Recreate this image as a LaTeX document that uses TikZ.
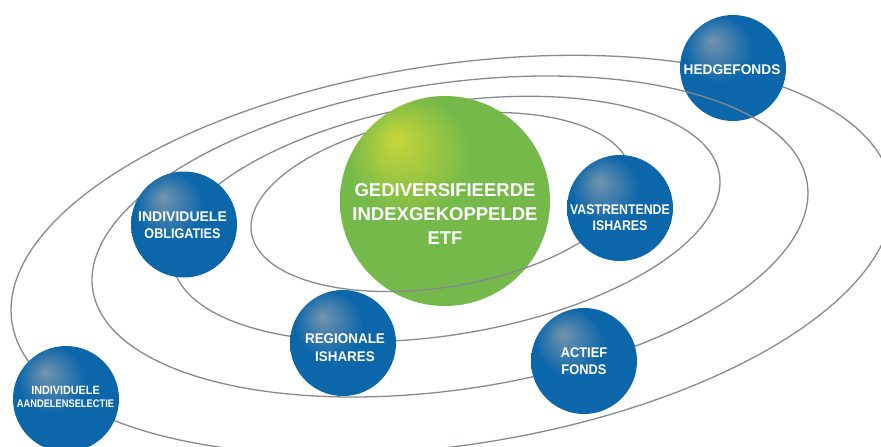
\documentclass[tikz,border=0pt]{standalone}
\usepackage{fontspec}
\usepackage{graphicx}
\newfontfamily\labfont{Liberation Sans}
\definecolor{orbitgray}{HTML}{858A91}
\pgfdeclareradialshading{bluesph}{\pgfpoint{-10bp}{13bp}}{rgb(0bp)=(0.45,0.58,0.68); rgb(16bp)=(0.043,0.4,0.667); rgb(50bp)=(0.043,0.4,0.667)}
\pgfdeclareradialshading{greensph}{\pgfpoint{-12bp}{15bp}}{rgb(0bp)=(0.78,0.84,0.22); rgb(15bp)=(0.455,0.725,0.29); rgb(50bp)=(0.455,0.725,0.29)}
\tikzset{
  orbit/.style={draw=orbitgray, line width=1.3pt},
  planet/.style={circle, inner sep=0pt, minimum size=106pt, shading=bluesph},
  sun/.style={circle, inner sep=0pt, minimum size=210pt, shading=greensph},
  lbl/.style={text=white, align=center, inner sep=0pt, font=\labfont\bfseries\fontsize{14}{17.5}\selectfont},
  biglbl/.style={lbl, font=\labfont\bfseries\fontsize{18.5}{24}\selectfont},
}
\newcommand\orbitplot[6]{plot[domain=#6, samples=181] ({#1+#2*cos(\x)},{#3+#4*cos(\x)+#5*sin(\x)})}
\begin{document}
\begin{tikzpicture}[x=1pt,y=-1pt]
\useasboundingbox (0,0) rectangle (881,447);
\clip (0,0) rectangle (881,447);
% orbits
\draw[orbit] \orbitplot{441}{190}{202}{-25}{86}{0:360} -- cycle;
\draw[orbit] \orbitplot{446}{274}{219}{-37}{117}{0:360} -- cycle;
\draw[orbit] \orbitplot{450}{358}{236.5}{-43.5}{154.5}{0:360} -- cycle;
\draw[orbit] \orbitplot{452}{441}{255}{-55}{192}{0:360} -- cycle;
% bodies
\node[sun] (etf) at (445,201) {};
\node[planet] (hedge) at (733,68) {};
\node[planet] (vast) at (620,208) {};
\node[planet] (oblig) at (184,224.5) {};
\node[planet] (regio) at (343,343) {};
\node[planet] (actief) at (584,361) {};
\node[planet] (aandel) at (66,399) {};
% orbit parts in front
\begin{scope}
  \clip (etf.center) circle (105pt);
  \draw[orbit] \orbitplot{441}{190}{202}{-25}{86}{0:180};
\end{scope}
\begin{scope}
  \clip (hedge.center) circle (53pt);
  \draw[orbit] \orbitplot{450}{358}{236.5}{-43.5}{154.5}{180:360};
\end{scope}
% labels
\node[biglbl] (t-etf) at (445,214) {GEDIVERSIFIEERDE\\INDEXGEKOPPELDE\\ETF};
\node[lbl] (t-hedge) at (732,70) {\scalebox{0.98}[1]{HEDGEFONDS}};
\node[lbl] (t-oblig) at (182.5,225.3) {INDIVIDUELE\\\scalebox{0.9}[1]{OBLIGATIES}};
\node[lbl, font=\labfont\bfseries\fontsize{14}{16}\selectfont] (t-vast) at (620,218) {\scalebox{0.88}[1]{VASTRENTENDE}\\\scalebox{0.88}[1]{ISHARES}};
\node[lbl] (t-regio) at (345,347.7) {\scalebox{0.96}[1]{REGIONALE}\\\scalebox{0.96}[1]{ISHARES}};
\node[lbl] (t-actief) at (584,361) {\scalebox{0.92}[1]{ACTIEF}\\\scalebox{0.92}[1]{FONDS}};
\node[lbl, font=\labfont\bfseries\fontsize{12}{13.5}\selectfont] (t-aandel) at (65.5,397) {\scalebox{0.9}[1]{INDIVIDUELE}\\{\fontsize{11}{13.5}\selectfont\scalebox{0.845}[1]{AANDELENSELECTIE}}};
\end{tikzpicture}
\end{document}
